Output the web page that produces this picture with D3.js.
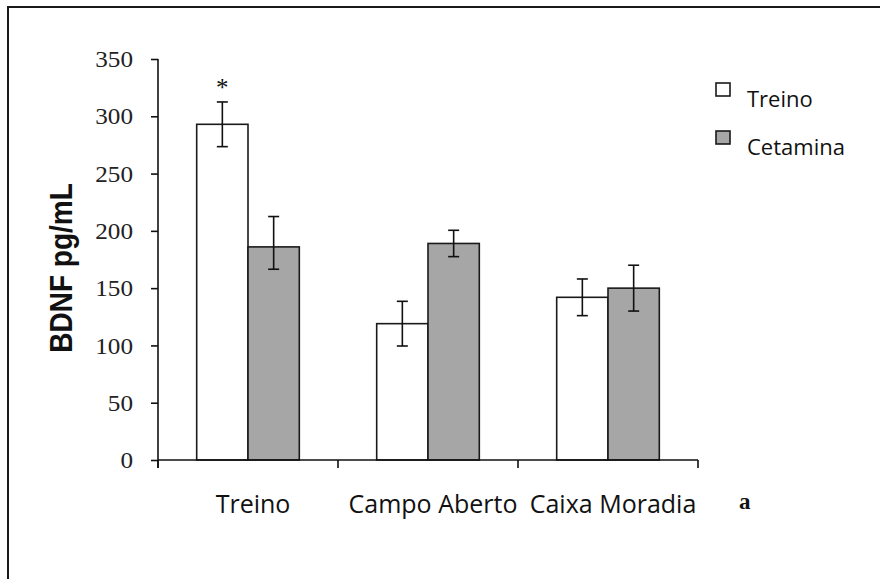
<!DOCTYPE html>
<html>
<head>
<meta charset="utf-8">
<script src="https://cdn.jsdelivr.net/npm/d3@7"></script>
<style>
  html, body { margin: 0; padding: 0; background: #fff; }
  svg { display: block; }
</style>
</head>
<body>
<svg id="chart" width="880" height="579"></svg>
<script>
// ---- data ----
const categories = ["Treino", "Campo Aberto", "Caixa Moradia"];
const seriesNames = ["Treino", "Cetamina"];
const treinoValues = [293, 119, 142];
const cetaminaValues = [186, 189, 150];
const treinoErrUp = [19.5, 19.5, 16];
const treinoErrDown = [19.5, 19.5, 16];
const cetaminaErrUp = [26.5, 11.5, 20];
const cetaminaErrDown = [19.5, 11.5, 20];
const yTicks = [0, 50, 100, 150, 200, 250, 300, 350];
const significance = [{ category: "Treino", series: "Treino", label: "*" }];
const yTitle = "BDNF pg/mL";

// ---- setup ----
const svg = d3.select("#chart");
const colors = { "Treino": "#ffffff", "Cetamina": "#a6a6a6" };
const stroke = "#1a1a1a";

// frame
svg.append("rect")
  .attr("x", 8).attr("y", 7).attr("width", 900).attr("height", 600)
  .attr("fill", "none").attr("stroke", "#1a1a1a").attr("stroke-width", 2);

const x0 = d3.scaleBand().domain(categories).range([158, 698]).paddingInner(0).paddingOuter(0);
const x1 = d3.scaleBand().domain(seriesNames).range([0, x0.bandwidth()]).paddingInner(0).paddingOuter(0.754);
const y = d3.scaleLinear().domain([0, 350]).range([460, 59]);

const rows = [];
categories.forEach((c, i) => {
  rows.push({ cat: c, s: "Treino", v: treinoValues[i], up: treinoErrUp[i], down: treinoErrDown[i] });
  rows.push({ cat: c, s: "Cetamina", v: cetaminaValues[i], up: cetaminaErrUp[i], down: cetaminaErrDown[i] });
});

// bars
svg.append("g").selectAll("rect").data(rows).join("rect")
  .attr("x", d => x0(d.cat) + x1(d.s))
  .attr("y", d => y(d.v))
  .attr("width", x1.bandwidth())
  .attr("height", d => y(0) - y(d.v))
  .attr("fill", d => colors[d.s])
  .attr("stroke", stroke).attr("stroke-width", 1.6);

// error bars
const eg = svg.append("g").attr("stroke", "#111").attr("stroke-width", 1.6);
rows.forEach(d => {
  const cx = x0(d.cat) + x1(d.s) + x1.bandwidth() / 2;
  const yt = y(d.v + d.up), yb = y(d.v - d.down);
  eg.append("line").attr("x1", cx).attr("x2", cx).attr("y1", yt).attr("y2", yb);
  eg.append("line").attr("x1", cx - 5.5).attr("x2", cx + 5.5).attr("y1", yt).attr("y2", yt);
  eg.append("line").attr("x1", cx - 5.5).attr("x2", cx + 5.5).attr("y1", yb).attr("y2", yb);
});

// significance marks
significance.forEach(m => {
  const r = rows.find(d => d.cat === m.category && d.s === m.series);
  svg.append("text")
    .attr("x", x0(r.cat) + x1(r.s) + x1.bandwidth() / 2)
    .attr("y", y(r.v + r.up) - 6)
    .attr("text-anchor", "middle")
    .attr("font-family", "Liberation Serif, Times New Roman, serif")
    .attr("font-size", 25).attr("fill", "#111")
    .text(m.label);
});

// y axis
const yAxis = svg.append("g").attr("transform", "translate(158,0)")
  .call(d3.axisLeft(y).tickValues(yTicks).tickSize(7).tickFormat(""));
yAxis.select(".domain").attr("stroke", "#111").attr("stroke-width", 1.6).attr("d", "M0,59V468");
yAxis.selectAll(".tick line").attr("stroke", "#111").attr("stroke-width", 1.6);

// y tick labels
svg.append("g").selectAll("g").data(yTicks).join("g")
  .attr("transform", d => `translate(133,${y(d)}) scale(1.05,1)`)
  .append("text")
  .attr("text-anchor", "end").attr("dy", "0.34em")
  .attr("font-family", "Liberation Serif, Times New Roman, serif")
  .attr("font-size", 24).attr("fill", "#222")
  .text(d => d);

// x axis
const xAxis = svg.append("g").attr("transform", "translate(0,460)");
xAxis.append("line").attr("x1", 158).attr("x2", 698).attr("y1", 0).attr("y2", 0)
  .attr("stroke", "#111").attr("stroke-width", 1.6);
const boundaries = categories.map(c => x0(c)).concat([x0.range()[1]]);
xAxis.selectAll("line.tk").data(boundaries).join("line").attr("class", "tk")
  .attr("x1", d => d).attr("x2", d => d).attr("y1", 0).attr("y2", 8)
  .attr("stroke", "#111").attr("stroke-width", 1.6);

// category labels
svg.append("g").selectAll("text").data(categories).join("text")
  .attr("x", d => x0(d) + x0.bandwidth() / 2 + 5)
  .attr("y", 513)
  .attr("text-anchor", "middle")
  .attr("font-family", "Open Sans, sans-serif")
  .attr("font-size", 25).attr("fill", "#111")
  .text(d => d);

// stray fragment glyph
svg.append("text").attr("x", 739).attr("y", 509)
  .attr("font-family", "Liberation Serif, serif").attr("font-weight", "bold")
  .attr("font-size", 23).attr("fill", "#111").text("a");

// y title
svg.append("g").attr("transform", "translate(72,268) scale(1.12,1) rotate(-90)")
  .append("text")
  .attr("text-anchor", "middle")
  .attr("font-family", "Liberation Sans, Arial, sans-serif")
  .attr("font-weight", "bold").attr("font-size", 28).attr("fill", "#111")
  .text(yTitle);

// legend
const legend = svg.append("g");
seriesNames.forEach((s, i) => {
  const ly = 83 + i * 48;
  legend.append("rect").attr("x", 716).attr("y", ly).attr("width", 14).attr("height", 13)
    .attr("fill", colors[s]).attr("stroke", stroke).attr("stroke-width", 1.6);
  legend.append("text").attr("x", 747).attr("y", ly + 24)
    .attr("font-family", "Open Sans, sans-serif").attr("font-size", 22).attr("fill", "#111")
    .text(s);
});
</script>
</body>
</html>
